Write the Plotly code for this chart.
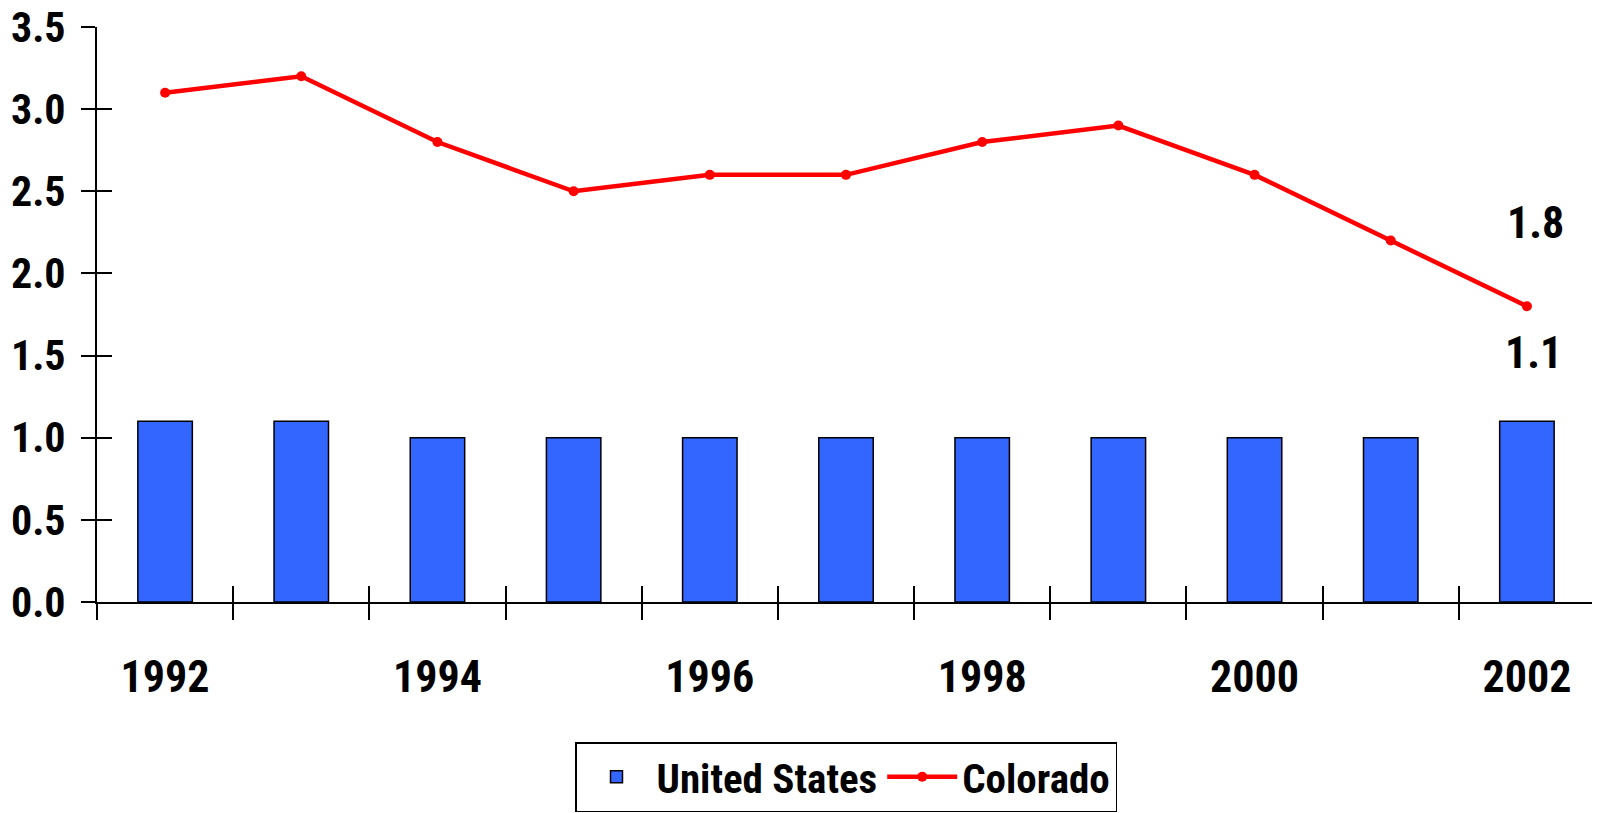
import plotly.graph_objects as go

years = [1992, 1993, 1994, 1995, 1996, 1997, 1998, 1999, 2000, 2001, 2002]
united_states = [1.1, 1.1, 1.0, 1.0, 1.0, 1.0, 1.0, 1.0, 1.0, 1.0, 1.1]
colorado = [3.1, 3.2, 2.8, 2.5, 2.6, 2.6, 2.8, 2.9, 2.6, 2.2, 1.8]
year_labels = [1992, 1994, 1996, 1998, 2000, 2002]
y_ticks = [0.0, 0.5, 1.0, 1.5, 2.0, 2.5, 3.0, 3.5]

FONT = "Roboto Condensed, Liberation Sans Narrow, Arial Narrow, sans-serif"
boundaries = [y - 0.5 for y in years] + [years[-1] + 0.5]
x_range = [boundaries[0], boundaries[-1]]
y_range = [0, 3.5]

fig = go.Figure()
fig.add_trace(
    go.Bar(
        x=years, y=united_states, name="United States",
        marker={"color": "#3366ff", "line": {"color": "black", "width": 1.5}},
        width=0.4,
    )
)
fig.add_trace(
    go.Scatter(
        x=years, y=colorado, mode="lines+markers", name="Colorado",
        line={"color": "#ff0000", "width": 4.5},
        marker={"color": "#ff0000", "size": 10},
    )
)
# helper trace so the overlay axes (inside half of the crossing ticks) exist
fig.add_trace(
    go.Scatter(x=[None], y=[None], xaxis="x2", yaxis="y2",
               showlegend=False, hoverinfo="skip")
)

label_font = {"size": 44, "family": FONT, "weight": "bold", "color": "black"}
fig.add_annotation(x=years[-1], y=colorado[-1], text=f"{colorado[-1]:.1f}",
                   showarrow=False, yanchor="bottom", xshift=9, yshift=55,
                   font=label_font)
fig.add_annotation(x=years[-1], y=united_states[-1], text=f"{united_states[-1]:.1f}",
                   showarrow=False, yanchor="bottom", xshift=7, yshift=40,
                   font=label_font)

# page body has an 8px margin, so the figure sits 8px right/down in the window
fig.update_layout(
    width=1600, height=813,
    paper_bgcolor="white", plot_bgcolor="white",
    margin={"l": 89, "r": 13, "t": 19, "b": 219, "autoexpand": False},
    font={"family": FONT, "size": 44, "color": "black", "weight": "bold"},
    bargap=0.6,
    showlegend=True,
    legend={
        "orientation": "h", "x": 0.5, "xanchor": "center",
        "y": -0.2435, "yanchor": "top",
        "bordercolor": "black", "borderwidth": 1.5, "bgcolor": "white",
        "font": {"size": 41, "family": FONT, "weight": "bold"},
        "itemwidth": 70,
    },
    xaxis={
        "range": x_range, "tickmode": "array", "tickvals": year_labels,
        "ticks": "", "showgrid": False, "zeroline": False,
        "showline": True, "linecolor": "black", "linewidth": 2,
        "ticklabelstandoff": 35, "automargin": False,
        "ticklabeloverflow": "allow",
        "minor": {"tickmode": "array", "tickvals": boundaries, "ticks": "outside",
                  "ticklen": 16, "tickwidth": 2, "tickcolor": "black", "showgrid": False},
    },
    xaxis2={
        "range": x_range, "overlaying": "x", "anchor": "y",
        "tickmode": "array", "tickvals": boundaries, "ticks": "inside",
        "ticklen": 16, "tickwidth": 2, "tickcolor": "black",
        "showticklabels": False, "showgrid": False, "zeroline": False,
    },
    yaxis={
        "range": y_range, "tickmode": "array", "tickvals": y_ticks,
        "tickformat": ".1f", "ticks": "outside", "ticklen": 14, "tickwidth": 2,
        "tickcolor": "black", "showgrid": False, "zeroline": False,
        "showline": True, "linecolor": "black", "linewidth": 2,
        "ticklabelstandoff": 7, "automargin": False,
        "ticklabeloverflow": "allow",
        "tickfont": {"size": 42, "family": FONT, "weight": "bold", "color": "black"},
    },
    yaxis2={
        "range": y_range, "overlaying": "y", "anchor": "x",
        "tickmode": "array", "tickvals": y_ticks, "ticks": "inside",
        "ticklen": 15, "tickwidth": 2, "tickcolor": "black",
        "showticklabels": False, "showgrid": False, "zeroline": False,
    },
)

fig.write_html("out.html")
